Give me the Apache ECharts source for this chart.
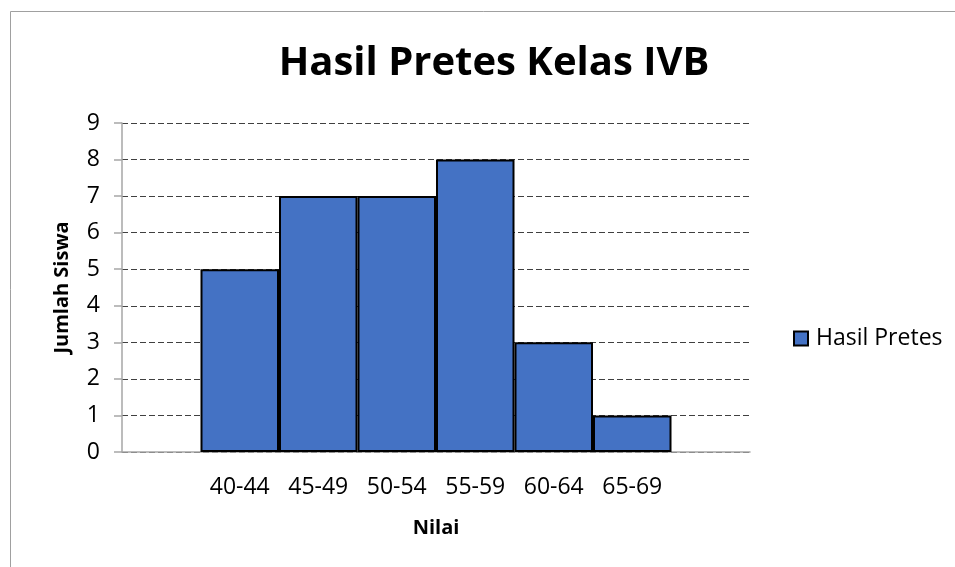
<!DOCTYPE html>
<html>
<head>
<meta charset="utf-8">
<script src="https://cdn.jsdelivr.net/npm/echarts@6/dist/echarts.min.js"></script>
<style>
html,body{margin:0;padding:0;background:#fff;}
#chart{width:955px;height:567px;}
</style>
</head>
<body>
<div id="chart"></div>
<script>
var titleText = 'Hasil Pretes Kelas IVB';
var categories = ['40-44', '45-49', '50-54', '55-59', '60-64', '65-69'];
var values = [5, 7, 7, 8, 3, 1];
var seriesName = 'Hasil Pretes';
var xName = 'Nilai';
var yName = 'Jumlah Siswa';

// pad one empty category at each end (as in the original chart)
var axisCats = [''].concat(categories).concat(['']);
var axisVals = [null].concat(values).concat([null]);

var chart = echarts.init(document.getElementById('chart'), null, {renderer: 'canvas'});
var font = "'Open Sans', 'Noto Sans', sans-serif";
chart.setOption({
  animation: false,
  backgroundColor: '#ffffff',
  textStyle: {fontFamily: font},
  title: {
    text: titleText,
    left: 489, textAlign: 'center',
    top: 39,
    textStyle: {fontFamily: font, fontSize: 40, fontWeight: 'bold', color: '#000'}
  },
  graphic: [{
    type: 'rect', silent: true, z: -1,
    shape: {x: 10.5, y: 11.5, width: 1000, height: 600},
    style: {fill: 'none', stroke: '#a0a0a0', lineWidth: 1}
  }],
  legend: {
    left: 788, top: 322,
    icon: 'rect', itemWidth: 14, itemHeight: 14, itemGap: 6,
    textStyle: {fontFamily: font, fontSize: 23, color: '#000', padding: [0,0,0,3]},
    data: [seriesName]
  },
  grid: {left: 122, right: 205, top: 123, bottom: 115, containLabel: false},
  xAxis: {
    type: 'category',
    data: axisCats,
    name: xName, nameLocation: 'middle', nameGap: 66,
    nameTextStyle: {fontFamily: font, fontSize: 20, fontWeight: 'bold', color: '#000'},
    axisLine: {lineStyle: {color: '#a6a6a6', width: 1.5}},
    axisTick: {show: false},
    axisLabel: {fontFamily: font, fontSize: 23, color: '#000', margin: 24, interval: 0},
    splitLine: {show: false}
  },
  yAxis: {
    type: 'value', min: 0, max: 9, interval: 1,
    name: yName, nameLocation: 'middle', nameGap: 50, nameRotate: 90,
    nameTextStyle: {fontFamily: font, fontSize: 20, fontWeight: 'bold', color: '#000'},
    axisLine: {show: true, lineStyle: {color: '#a6a6a6', width: 1.5}},
    axisTick: {show: true, length: 8, lineStyle: {color: '#a6a6a6', width: 1.5}},
    axisLabel: {fontFamily: font, fontSize: 23, color: '#000', margin: 22},
    splitLine: {show: true, lineStyle: {color: '#404040', type: [6, 3], width: 1.2}}
  },
  series: [{
    name: seriesName,
    type: 'bar',
    data: axisVals,
    barWidth: '100%',
    barCategoryGap: 0,
    itemStyle: {color: '#4472C4', borderColor: '#000', borderWidth: 2}
  }]
});
</script>
</body>
</html>
